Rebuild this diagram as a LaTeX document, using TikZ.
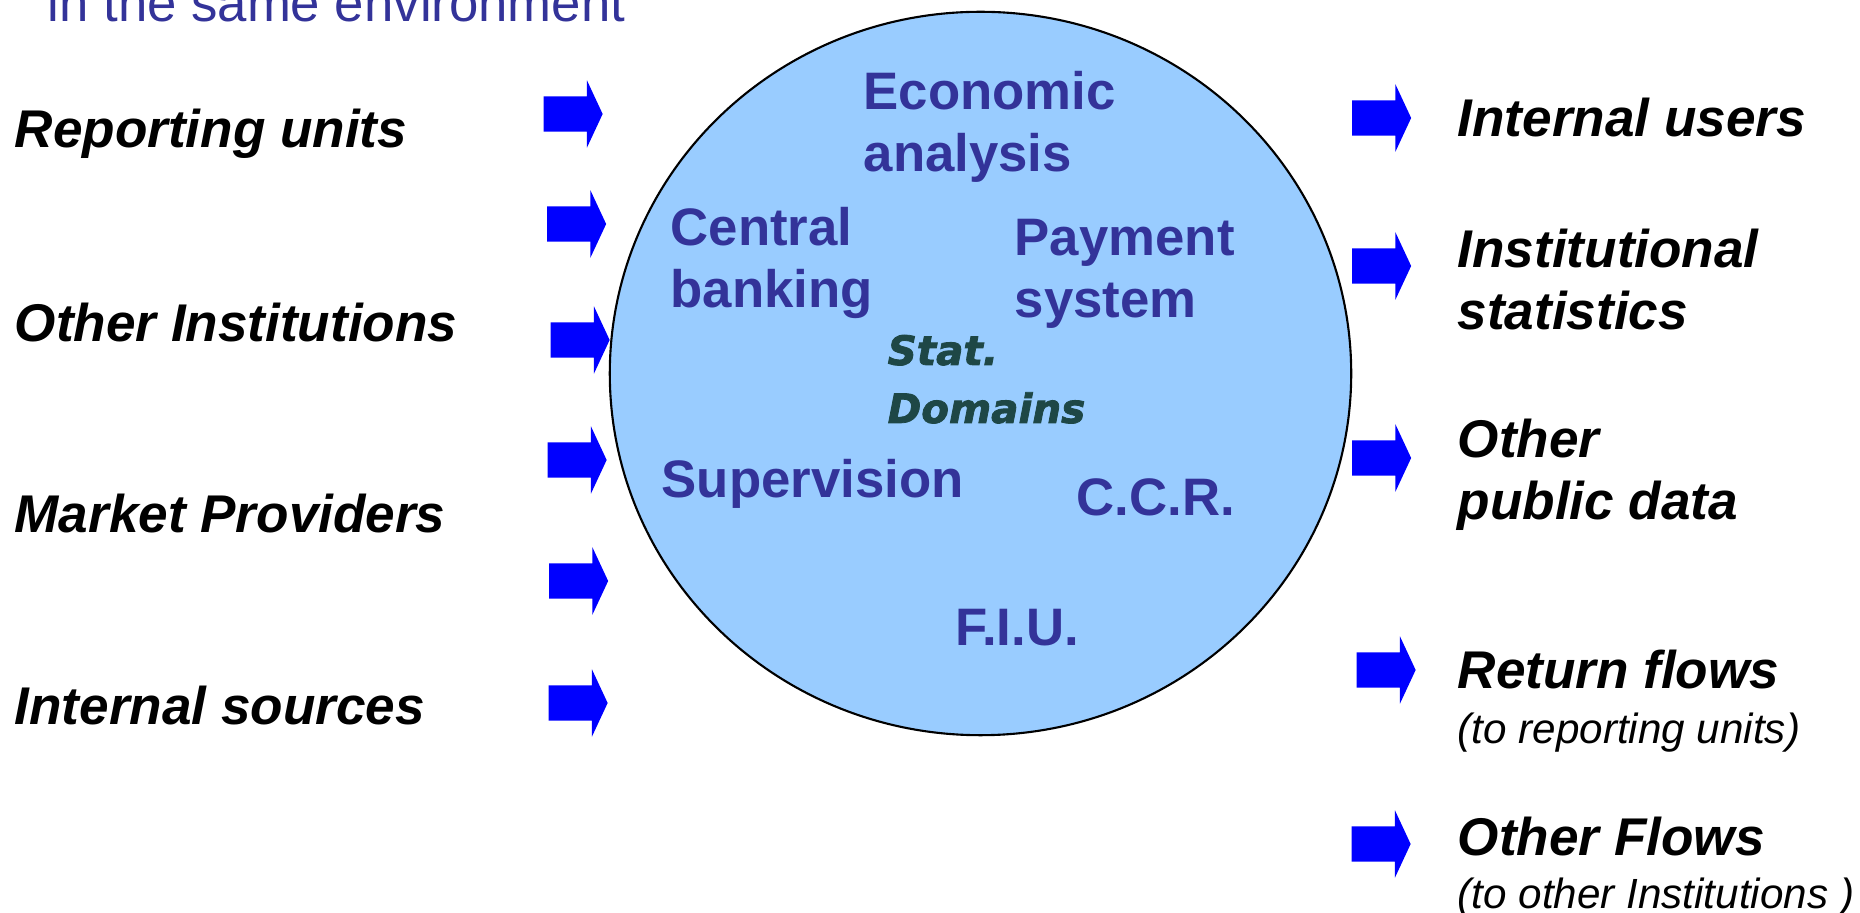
\documentclass[tikz,border=0pt]{standalone}
\usepackage{fontspec}
\setmainfont{Liberation Sans}
\newfontfamily\statfont[BoldItalicFeatures={FakeBold=2}]{DejaVu Sans}
\usetikzlibrary{shapes.geometric,shapes.arrows}

\definecolor{textblue}{HTML}{333399}
\definecolor{poolblue}{HTML}{99CCFF}
\definecolor{arrowblue}{HTML}{0000FF}
\definecolor{statgreen}{HTML}{1E4746}

\tikzset{
  flowarrow/.style={single arrow, fill=arrowblue, draw=none, inner sep=0.17cm,
    minimum height=0.59cm, single arrow head extend=0.16cm, single arrow tip angle=130},
  flowlabel/.style={anchor=base west, inner sep=0, align=left,
    font=\bfseries\itshape\fontsize{15.1}{17.9}\selectfont},
  flownote/.style={anchor=base west, inner sep=0,
    font=\itshape\fontsize{12}{14}\selectfont},
  arealabel/.style={anchor=base west, inner sep=0, align=left, text=textblue,
    font=\bfseries\fontsize{15}{17.9}\selectfont}
}

\begin{document}
\begin{tikzpicture}[x=0.01cm, y=-0.01cm]
\useasboundingbox (0,0) rectangle (1860,913);

\node (title) [anchor=base west, inner sep=0, text=textblue, font=\fontsize{15}{18}\selectfont] at (47,22) {in the same environment};

% the pool of data in the centre (multi-line labels sit on their last line)
\node (pool) [ellipse, draw, line width=0.6pt, fill=poolblue, inner sep=0,
  minimum width=7.41cm, minimum height=7.23cm] at (980.5,373.5) {};

\node (eco) [arealabel] at (863,172) {Economic\\analysis};
\node (cb)  [arealabel] at (670,308) {Central\\banking};
\node (pay) [arealabel] at (1014,318) {Payment\\system};
\node (stat) [anchor=base west, inner sep=0, align=left, text=statgreen,
  font=\statfont\bfseries\itshape\fontsize{11.5}{16.5}\selectfont] at (887,423) {Stat.\\Domains};
\node (sup) [arealabel] at (661,498) {Supervision};
\node (ccr) [arealabel] at (1076,516) {C.C.R.};
\node (fiu) [arealabel] at (955,646) {F.I.U.};

% sources
\node (rep) [flowlabel] at (14,148) {Reporting units};
\node (oin) [flowlabel] at (14,342) {Other Institutions};
\node (mkt) [flowlabel] at (14,533) {Market Providers};
\node (isrc) [flowlabel] at (14,725) {Internal sources};

\node (in1) [flowarrow] at (569,114) {};
\node (in2) [flowarrow] at (572.5,224) {};
\node (in3) [flowarrow] at (576,340) {};
\node (in4) [flowarrow] at (573,460) {};
\node (in5) [flowarrow] at (574.5,581) {};
\node (in6) [flowarrow] at (574,703) {};

% users
\node (out1) [flowarrow] at (1377.5,118) {};
\node (out2) [flowarrow] at (1377.5,266) {};
\node (out3) [flowarrow] at (1377.5,458) {};
\node (out4) [flowarrow] at (1382,670) {};
\node (out5) [flowarrow] at (1377,844) {};

\node (iusr) [flowlabel] at (1457,137) {Internal users};
\node (istat) [flowlabel] at (1457,330) {Institutional\\statistics};
\node (opub) [flowlabel] at (1457,520) {Other\\public data};
\node (ret) [flowlabel] at (1457,689) {Return flows};
\node (retnote) [flownote] at (1457,744) {(to reporting units)};
\node (oflow) [flowlabel] at (1457,856) {Other Flows};
\node (oflownote) [flownote] at (1457,909) {(to other Institutions )};

\end{tikzpicture}
\end{document}
